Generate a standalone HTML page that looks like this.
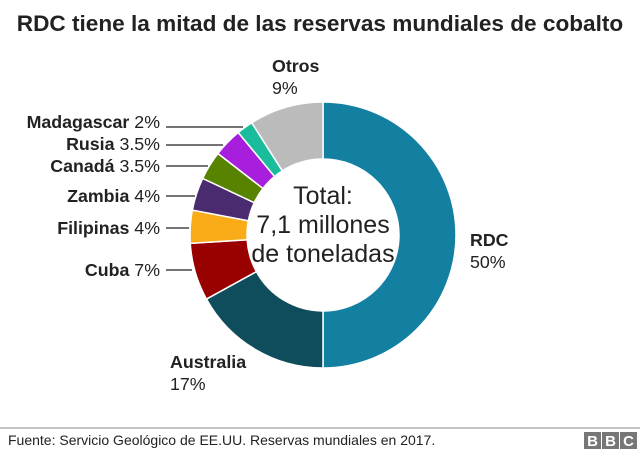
<!DOCTYPE html>
<html><head><meta charset="utf-8"><style>
body{margin:0;background:#fff;width:640px;height:458px;overflow:hidden;font-family:"Liberation Sans",Arial,sans-serif}
</style></head><body>
<svg id="s" width="640" height="458" xmlns="http://www.w3.org/2000/svg" font-family="Liberation Sans, Arial, sans-serif">
<text x="320" y="31" text-anchor="middle" font-size="22.6" font-weight="bold" fill="#222">RDC tiene la mitad de las reservas mundiales de cobalto</text>
<g id="d"></g>
<text x="323" y="204" text-anchor="middle" font-size="25" fill="#222">Total:</text>
<text x="323" y="233" text-anchor="middle" font-size="25" fill="#222">7,1 millones</text>
<text x="323" y="262" text-anchor="middle" font-size="25" fill="#222">de toneladas</text>
<g font-size="17.8" fill="#222">
<text x="272" y="72" font-weight="bold">Otros</text><text x="272" y="94">9%</text>
<text x="470" y="246" font-weight="bold">RDC</text><text x="470" y="268">50%</text>
<text x="170" y="368" font-weight="bold">Australia</text><text x="170" y="390">17%</text>
<text x="160" y="128" text-anchor="end"><tspan font-weight="bold">Madagascar</tspan> 2%</text>
<text x="160" y="150" text-anchor="end"><tspan font-weight="bold">Rusia</tspan> 3.5%</text>
<text x="160" y="172" text-anchor="end"><tspan font-weight="bold">Canadá</tspan> 3.5%</text>
<text x="160" y="202" text-anchor="end"><tspan font-weight="bold">Zambia</tspan> 4%</text>
<text x="160" y="234" text-anchor="end"><tspan font-weight="bold">Filipinas</tspan> 4%</text>
<text x="160" y="276" text-anchor="end"><tspan font-weight="bold">Cuba</tspan> 7%</text>
</g>
<g stroke="#222" stroke-width="1.2">
<line x1="166" y1="127" x2="243" y2="127"/>
<line x1="166" y1="145" x2="223" y2="145"/>
<line x1="166" y1="166" x2="208" y2="166"/>
<line x1="166" y1="196" x2="195" y2="196"/>
<line x1="166" y1="228" x2="189" y2="228"/>
<line x1="166" y1="270" x2="192" y2="270"/>
</g>
<line x1="0" y1="428" x2="640" y2="428" stroke="#888" stroke-width="1"/>
<text x="8" y="445" font-size="14" fill="#222">Fuente: Servicio Geológico de EE.UU. Reservas mundiales en 2017.</text>
<g font-size="15" font-weight="bold" fill="#fff" text-anchor="middle">
<rect x="584" y="432" width="17" height="17" fill="#777"/><text x="592.5" y="446">B</text>
<rect x="602" y="432" width="17" height="17" fill="#777"/><text x="610.5" y="446">B</text>
<rect x="620" y="432" width="17" height="17" fill="#777"/><text x="628.5" y="446">C</text>
</g>
</svg>
<script>
var cx=323,cy=235,R=133,r=76;
var data=[[50,"#1380A1"],[17,"#0F4C5C"],[7,"#990000"],[4,"#FAAB18"],[4,"#4B2B70"],[3.5,"#588300"],[3.5,"#A71EDC"],[2,"#1ABC9C"],[9,"#BBBBBB"]];
var a=0,h="";
function p(rad,ang){var t=ang/100*2*Math.PI;return (cx+rad*Math.sin(t)).toFixed(2)+","+(cy-rad*Math.cos(t)).toFixed(2);}
data.forEach(function(d){var b=a+d[0],l=d[0]>50?1:0;
h+='<path d="M'+p(R,a)+' A'+R+','+R+' 0 '+l+' 1 '+p(R,b)+' L'+p(r,b)+' A'+r+','+r+' 0 '+l+' 0 '+p(r,a)+' Z" fill="'+d[1]+'" stroke="#fff" stroke-width="1.5"/>';a=b;});
document.getElementById("d").innerHTML=h;
</script>
</body></html>
